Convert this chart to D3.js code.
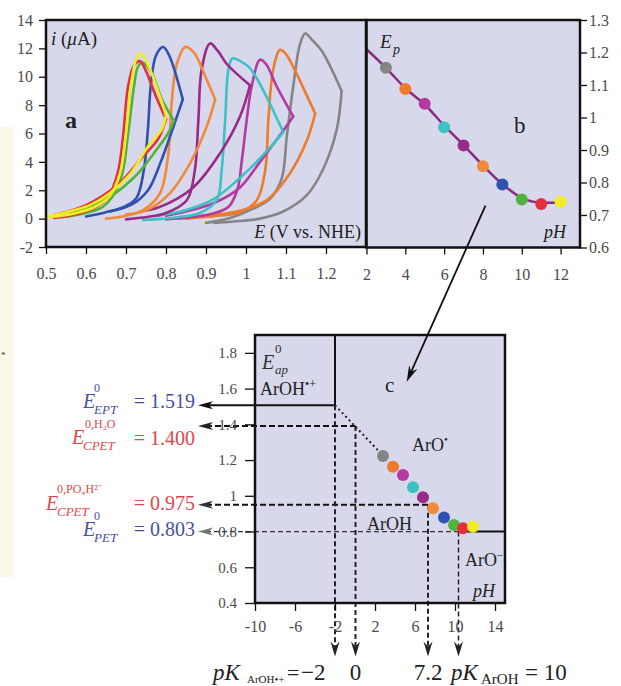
<!DOCTYPE html>
<html><head><meta charset="utf-8">
<script src="https://cdn.jsdelivr.net/npm/d3@7"></script>
<style>
body{margin:0;background:#fff;}
svg text{font-family:"Liberation Serif","Times New Roman",serif;}
</style></head>
<body><svg id="c" width="621" height="686" font-family="'Liberation Serif', 'Times New Roman', serif"></svg>
<script>
// ---------- DATA ----------
// Panel a: cyclic voltammograms (E in V vs NHE, i in µA), one per pH
const cvPH = [3,4,5,6,7,8,9,10,11,12];
const cvColors = ["#858585","#ee7a2c","#b33a9e","#3cc2c4","#982a88","#f0893a","#2f52ae","#52b240","#e2303c","#f2ec22"];
const cv3 = [[0.90,-0.3],[0.96,0.05],[1.01,0.6],[1.06,1.4],[1.089,2.8],[1.102,5.8],[1.118,9.3],[1.135,12.3],[1.148,13.05],[1.165,12.6],[1.19,11.8],[1.239,9.0],[1.227,6.3],[1.193,3.5],[1.152,1.65],[1.093,0.5],[1.035,0.0],[0.97,-0.2],[0.92,-0.3]];
const cv4 = [[0.85,0.0],[0.93,0.2],[0.985,0.45],[1.027,1.3],[1.048,3.4],[1.056,7.0],[1.068,10.5],[1.085,11.9],[1.10,11.6],[1.118,10.7],[1.173,7.4],[1.152,5.5],[1.11,3.2],[1.052,1.3],[0.985,0.55],[0.90,0.2]];
const cv5 = [[0.80,-0.05],[0.90,0.25],[0.955,0.8],[0.978,2.0],[0.99,4.2],[1.002,7.0],[1.014,9.3],[1.035,11.2],[1.05,10.9],[1.077,9.3],[1.118,7.2],[1.093,6.2],[1.035,4.0],[0.985,2.2],[0.92,1.1],[0.85,0.5],[0.80,0.2]];
const cv6 = [[0.743,-0.1],[0.83,0.1],[0.885,0.4],[0.927,1.3],[0.939,3.4],[0.948,7.0],[0.956,10.5],[0.966,11.3],[0.985,11.1],[1.01,10.6],[1.093,6.1],[1.06,5.0],[0.99,3.0],[0.92,1.4],[0.85,0.6],[0.78,0.2]];
const cv7 = [[0.70,-0.05],[0.76,0.15],[0.80,0.4],[0.852,1.3],[0.872,3.4],[0.881,7.0],[0.889,10.5],[0.91,12.35],[0.93,11.8],[0.952,10.9],[1.01,9.4],[0.985,7.2],[0.935,4.6],[0.868,2.2],[0.785,0.83],[0.735,0.5]];
const cv8 = [[0.65,0.0],[0.70,0.2],[0.743,0.6],[0.785,1.8],[0.806,4.6],[0.814,8.1],[0.827,10.9],[0.848,12.1],[0.87,11.7],[0.90,9.9],[0.923,8.4],[0.902,6.5],[0.86,3.9],[0.81,1.8],[0.752,0.6],[0.70,0.3]];
const cv9 = [[0.60,0.15],[0.65,0.45],[0.70,0.9],[0.727,1.5],[0.745,3.5],[0.755,6.4],[0.762,9.4],[0.775,11.5],[0.793,12.1],[0.808,11.5],[0.842,8.4],[0.82,6.6],[0.787,4.0],[0.755,2.0],[0.715,1.0],[0.66,0.5]];
const cv10 = [[0.54,0.1],[0.60,0.4],[0.64,0.8],[0.665,1.5],[0.69,3.1],[0.705,5.9],[0.72,9.3],[0.73,10.7],[0.742,11.0],[0.765,10.2],[0.79,8.4],[0.82,6.9],[0.805,6.0],[0.78,5.0],[0.72,2.9],[0.64,1.2],[0.56,0.4]];
const cv11 = [[0.52,0.05],[0.58,0.35],[0.63,0.9],[0.655,1.5],[0.68,3.3],[0.693,5.9],[0.705,9.3],[0.72,10.8],[0.735,11.1],[0.75,10.4],[0.775,8.6],[0.80,7.0],[0.78,5.6],[0.74,4.3],[0.68,2.4],[0.60,0.95],[0.52,0.25]];
const cv12 = [[0.50,0.10],[0.56,0.3],[0.62,0.8],[0.66,1.6],[0.685,3.2],[0.70,6.0],[0.712,9.3],[0.725,11.2],[0.737,11.65],[0.758,10.65],[0.78,9.0],[0.80,7.3],[0.79,6.3],[0.758,5.2],[0.709,3.1],[0.66,1.8],[0.61,0.95],[0.55,0.45],[0.50,0.15]];
const cvCurves = [cv3,cv4,cv5,cv6,cv7,cv8,cv9,cv10,cv11,cv12];

// Panel b: peak potential vs pH
const bPH = [3,4,5,6,7,8,9,10,11,12];
const bEp = [1.153,1.088,1.042,0.970,0.914,0.850,0.794,0.748,0.734,0.741];
const bLinePH = [2,3,4,5,6,7,8,9,10,10.5,11,12];
const bLineE  = [1.21,1.153,1.09,1.04,0.975,0.915,0.852,0.795,0.752,0.742,0.738,0.738];

// Panel c: Pourbaix-like diagram
const cPH = [2.8,3.8,4.8,5.8,6.8,7.8,8.9,9.9,10.8,11.8];
const cE  = [1.223,1.163,1.117,1.048,0.992,0.930,0.878,0.837,0.818,0.827];
const levelE   = [1.507,1.39,0.95,0.80];       // E levels of the horizontal lines (as drawn)
const levelPK  = [-2,0.05,7.3,10.35];           // pH where each level turns down
const levelVal = ["= 1.519","= 1.400","= 0.975","= 0.803"];
const slopeLine = [[-2,1.507],[2.8,1.225]];
const pkLabels = ["\u22122","0","7.2","10"];

// ticks
const aXMajor=[0.5,0.6,0.7,0.8,0.9,1.0,1.1,1.2], aYMajor=[-2,0,2,4,6,8,10,12,14];
const bXMajor=[2,4,6,8,10,12], bYMajor=[0.6,0.7,0.8,0.9,1.0,1.1,1.2,1.3];
const cXMajor=[-10,-6,-2,2,6,10,14], cYMajor=[0.4,0.6,0.8,1.0,1.2,1.4,1.6,1.8];

// ---------- DRAW ----------
const FONT="'Liberation Serif', 'Times New Roman', serif";
const svg=d3.select("#c");
const xa=d3.scaleLinear([0.5,1.3],[46,366]), ya=d3.scaleLinear([-2,14],[247,20]);
const xb=d3.scaleLinear([2,13],[366.5,580]), yb=d3.scaleLinear([0.6,1.3],[247.5,20]);
const xc=d3.scaleLinear([-10,15],[255,505]), yc=d3.scaleLinear([0.4,1.9],[603,335]);
const bg="#d8d8ec";

// beige strip at far left
svg.append("rect").attr("x",0).attr("y",127).attr("width",13).attr("height",450).attr("fill","#fbf7e6");
svg.append("text").attr("x",1).attr("y",358).attr("font-size",9).attr("fill","#333").text("*");

function range(a,b,s){const r=[];for(let v=a;v<=b+1e-9;v+=s)r.push(+v.toFixed(4));return r;}
function axis(gen, scale, majors, minors, fmt, maj, min, pad, fs, tr){
  const g=svg.append("g").attr("transform",tr);
  g.call(gen(scale).tickValues(minors).tickSize(min).tickFormat(""));
  g.call(gen(scale).tickValues(majors).tickSize(maj).tickPadding(pad).tickFormat(fmt));
  g.attr("font-family",FONT).attr("font-size",fs);
  g.selectAll(".domain").remove();
  g.selectAll("line").attr("stroke","#111").attr("stroke-width",1.3);
  g.selectAll("text").attr("font-family",FONT).attr("font-size",fs).attr("fill","#4a4a4a");
  return g;
}
const f=d=>String(+d.toFixed(2));

// panel backgrounds
svg.append("rect").attr("x",xa(0.5)).attr("y",ya(14)).attr("width",xa(1.3)-xa(0.5)).attr("height",ya(-2)-ya(14)).attr("fill",bg);
svg.append("rect").attr("x",xb(2)).attr("y",yb(1.3)).attr("width",xb(13)-xb(2)).attr("height",yb(0.6)-yb(1.3)).attr("fill",bg);
svg.append("rect").attr("x",xc(-10)).attr("y",yc(1.9)).attr("width",xc(15)-xc(-10)).attr("height",yc(0.4)-yc(1.9)).attr("fill",bg);

// ---- panel a ----
svg.append("clipPath").attr("id","ca").append("rect").attr("x",xa(0.5)).attr("y",ya(14)).attr("width",xa(1.3)-xa(0.5)).attr("height",ya(-2)-ya(14));
const ga=svg.append("g").attr("clip-path","url(#ca)");
const lineA=d3.line().x(d=>xa(d[0])).y(d=>ya(d[1])).curve(d3.curveCatmullRom.alpha(0.5));
cvCurves.forEach((c,k)=>{
  const sw=d3.maxIndex(c,d=>d[0]);
  [c.slice(0,sw+1),c.slice(sw)].forEach(part=>{
    ga.append("path").attr("d",lineA(part)).attr("fill","none").attr("stroke",cvColors[k])
      .attr("stroke-width",2.6).attr("stroke-linejoin","round").attr("stroke-linecap","round");
  });
});
axis(d3.axisBottom,xa,aXMajor,range(0.5,1.3,0.02),f,7,4,14,16,`translate(0,${ya(-2)})`);
axis(d3.axisLeft,ya,aYMajor,range(-2,14,0.5),f,7,4,6,16,`translate(${xa(0.5)},0)`);
svg.append("rect").attr("x",xa(0.5)).attr("y",ya(14)).attr("width",xa(1.3)-xa(0.5)).attr("height",ya(-2)-ya(14)).attr("fill","none").attr("stroke","#111").attr("stroke-width",2.5);

// ---- panel b ----
const lineB=d3.line().x(d=>xb(d[0])).y(d=>yb(d[1])).curve(d3.curveCatmullRom.alpha(0.5));
svg.append("path").attr("d",lineB(bLinePH.map((p,i)=>[p,bLineE[i]]))).attr("fill","none").attr("stroke","#8a2c7c").attr("stroke-width",2.5);
svg.selectAll(".bdot").data(bPH).join("circle").attr("cx",d=>xb(d)).attr("cy",(d,i)=>yb(bEp[i])).attr("r",6).attr("fill",(d,i)=>cvColors[i]);
axis(d3.axisBottom,xb,bXMajor,range(2,13,0.5),f,7,4,14,16,`translate(0,${yb(0.6)})`);
axis(d3.axisRight,yb,bYMajor,range(0.6,1.3,0.02),f,7,4,2,16,`translate(${xb(13)},0)`);
svg.append("rect").attr("x",xb(2)).attr("y",yb(1.3)).attr("width",xb(13)-xb(2)).attr("height",yb(0.6)-yb(1.3)).attr("fill","none").attr("stroke","#111").attr("stroke-width",2.5);

// ---- panel c ----
const arrowTipPH=-15.7, arrowTipE=0.1;
function leftArrow(yv,color){
  const x=xc(arrowTipPH), y=yc(yv);
  svg.append("path").attr("d",`M${x},${y}L${x+15},${y-4}L${x+11},${y}L${x+15},${y+4}Z`).attr("fill",color);
}
function downArrow(xv){
  const x=xc(xv), y=yc(arrowTipE);
  svg.append("path").attr("d",`M${x},${y}L${x-4.5},${y-15}L${x},${y-10}L${x+4.5},${y-15}Z`).attr("fill","#222");
}
svg.append("line").attr("x1",xc(-2)).attr("x2",xc(-2)).attr("y1",yc(1.9)).attr("y2",yc(levelE[0])).attr("stroke","#111").attr("stroke-width",2);
svg.append("line").attr("x1",xc(arrowTipPH)+8).attr("x2",xc(levelPK[0])).attr("y1",yc(levelE[0])).attr("y2",yc(levelE[0])).attr("stroke","#111").attr("stroke-width",2);
[1,2].forEach(k=>{
  svg.append("line").attr("x1",xc(arrowTipPH)+8).attr("x2",xc(levelPK[k])).attr("y1",yc(levelE[k])).attr("y2",yc(levelE[k])).attr("stroke","#111").attr("stroke-width",2).attr("stroke-dasharray","6,3");
});
svg.append("line").attr("x1",xc(arrowTipPH)+8).attr("x2",xc(levelPK[3])).attr("y1",yc(levelE[3])).attr("y2",yc(levelE[3])).attr("stroke","#333").attr("stroke-width",1.3).attr("stroke-dasharray","5,3");
svg.append("line").attr("x1",xc(levelPK[3])).attr("x2",xc(15)).attr("y1",yc(levelE[3])).attr("y2",yc(levelE[3])).attr("stroke","#111").attr("stroke-width",2);
levelPK.forEach((p,k)=>{
  svg.append("line").attr("x1",xc(p)).attr("x2",xc(p)).attr("y1",yc(levelE[k])).attr("y2",yc(arrowTipE)-10).attr("stroke","#222").attr("stroke-width",k==3?1.5:2).attr("stroke-dasharray","5,3");
  downArrow(p);
});
leftArrow(levelE[0],"#111"); leftArrow(levelE[1],"#222"); leftArrow(levelE[2],"#333"); leftArrow(levelE[3],"#777");
svg.append("line").attr("x1",xc(slopeLine[0][0])).attr("y1",yc(slopeLine[0][1])).attr("x2",xc(slopeLine[1][0])).attr("y2",yc(slopeLine[1][1])).attr("stroke","#222").attr("stroke-width",2).attr("stroke-dasharray","2,3");
svg.selectAll(".cdot").data(cPH).join("circle").attr("cx",d=>xc(d)).attr("cy",(d,i)=>yc(cE[i])).attr("r",6).attr("fill",(d,i)=>cvColors[i]);
axis(d3.axisBottom,xc,cXMajor,range(-10,15,1),f,8,4,10,16,`translate(0,${yc(0.4)})`);
axis(d3.axisLeft,yc,cYMajor,range(0.4,1.9,0.05),f,10,-4,8,15,`translate(${xc(-10)},0)`);
svg.append("rect").attr("x",xc(-10)).attr("y",yc(1.9)).attr("width",xc(15)-xc(-10)).attr("height",yc(0.4)-yc(1.9)).attr("fill","none").attr("stroke","#111").attr("stroke-width",2.5);

// arrow from b to c
(function(){
  const x1=xb(8.13),y1=yb(0.729),x2=xc(5.17),y2=yc(1.638);
  const a=Math.atan2(y2-y1,x2-x1), L=16, W=4.5;
  svg.append("line").attr("x1",x1).attr("y1",y1).attr("x2",x2-Math.cos(a)*10).attr("y2",y2-Math.sin(a)*10).attr("stroke","#111").attr("stroke-width",1.8);
  const bx=x2-Math.cos(a)*L, by=y2-Math.sin(a)*L, nx=-Math.sin(a), ny=Math.cos(a);
  const ix=x2-Math.cos(a)*11, iy=y2-Math.sin(a)*11;
  svg.append("path").attr("d",`M${x2},${y2}L${bx+nx*W},${by+ny*W}L${ix},${iy}L${bx-nx*W},${by-ny*W}Z`).attr("fill","#111");
})();

// ---------- TEXT ----------
function txt(x,y,s,fs,opt={}){
  const t=svg.append("text").attr("x",x).attr("y",y).attr("font-size",fs).attr("font-family",FONT).attr("fill",opt.fill||"#222");
  if(opt.italic)t.attr("font-style","italic");
  if(opt.anchor)t.attr("text-anchor",opt.anchor);
  if(opt.weight)t.attr("font-weight",opt.weight);
  t.text(s);return t;
}
// panel a
const ti=svg.append("text").attr("x",51).attr("y",45).attr("font-size",19).attr("fill","#222");
ti.append("tspan").attr("font-style","italic").text("i");
ti.append("tspan").text(" (");
ti.append("tspan").attr("font-style","italic").text("\u03bc");
ti.append("tspan").text("A)");
txt(65,128,"a",24,{weight:"bold"});
const te=svg.append("text").attr("x",361).attr("y",238).attr("font-size",18).attr("text-anchor","end").attr("fill","#222");
te.append("tspan").attr("font-style","italic").text("E");
te.append("tspan").text(" (V vs. NHE)");
// panel b
txt(380,48,"E",19,{italic:true});
txt(393,54,"p",14,{italic:true});
txt(514,133,"b",23);
txt(544,238,"pH",18,{italic:true});
// panel c
txt(262,369,"E",20,{italic:true,fill:"#333"});
txt(275,353,"0",13,{fill:"#333"});
txt(275,374,"ap",13,{italic:true,fill:"#333"});
const tr=svg.append("text").attr("x",260).attr("y",395).attr("font-size",18).attr("fill","#222");
tr.append("tspan").text("ArOH");
tr.append("tspan").attr("dy",-7).attr("font-size",12).text("\u2022+");
txt(385,392,"c",21);
const t1=svg.append("text").attr("x",412).attr("y",451).attr("font-size",18).attr("fill","#222");
t1.append("tspan").text("ArO");t1.append("tspan").attr("dy",-8).attr("font-size",11).text("\u2022");
txt(367,530,"ArOH",18);
const t2=svg.append("text").attr("x",465).attr("y",566).attr("font-size",18).attr("fill","#222");
t2.append("tspan").text("ArO");t2.append("tspan").attr("dy",-8).attr("font-size",11).text("\u2013");
txt(473,597,"pH",18,{italic:true});

// left labels
const blue="#4a4fa6", red="#e0474a";
function eLabel(x,y,sup,sub,col){
  txt(x,y,"E",20,{italic:true,fill:col});
  if(sup)txt(x+11,y-16,sup,12,{fill:col});
  txt(x+11,y+6,sub,13,{italic:true,fill:col});
}
eLabel(83,408,"0","EPT",blue);
txt(195,408,levelVal[0],20,{anchor:"end",fill:blue});
eLabel(72,444,"","CPET",red);
txt(85,428,"0,H\u2082O",12,{fill:red});
txt(195,445,levelVal[1],20,{anchor:"end",fill:red});
eLabel(46,510,"","CPET",red);
txt(57,493,"0,PO\u2084H\u00b2\u207b",12,{fill:red});
txt(195,510,levelVal[2],20,{anchor:"end",fill:red});
eLabel(83,536,"0","PET",blue);
txt(195,536,levelVal[3],20,{anchor:"end",fill:blue});

// bottom labels
txt(213,680,"pK",23,{italic:true});
txt(247,683,"ArOH\u2022+",11);
txt(287,680,"=",22);
txt(301,680,pkLabels[0],23);
txt(xc(levelPK[1]),680,pkLabels[1],23,{anchor:"middle"});
txt(xc(levelPK[2]),680,pkLabels[2],23,{anchor:"middle"});
txt(451,680,"pK",23,{italic:true});
txt(481,684,"ArOH",15);
txt(525,680,"= "+pkLabels[3],23);
</script></body></html>
